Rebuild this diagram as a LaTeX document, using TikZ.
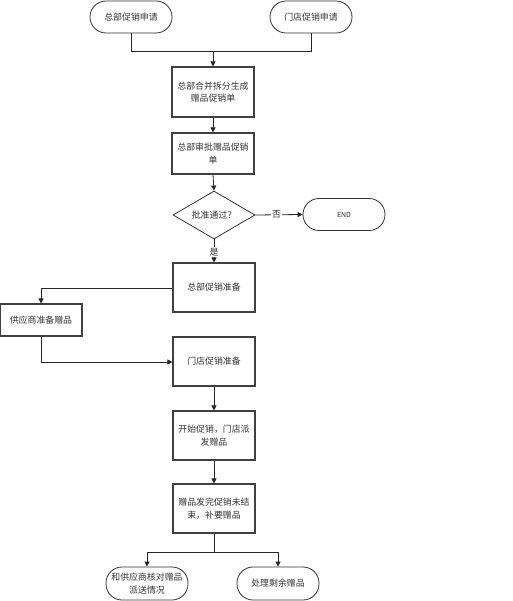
\documentclass[tikz,border=0pt]{standalone}
\usepackage{fontspec}
\setmainfont{Noto Sans CJK SC}
\usetikzlibrary{shapes.geometric,arrows.meta}
\begin{document}
\begin{tikzpicture}[x=1pt,y=-1pt,
  every node/.style={font=\fontsize{8.9}{12.5}\selectfont, text=black!80},
  proc/.style={draw=black!75, line width=1.1pt, minimum width=82pt, align=center, inner sep=1pt, text width=80pt},
  term/.style={draw=black!80, line width=0.8pt, minimum width=82pt, minimum height=32pt, rounded corners=16pt, align=center, inner sep=1pt},
  dec/.style={draw=black!80, line width=0.8pt, diamond, aspect=1.68, minimum width=82pt, minimum height=48pt, inner sep=0pt},
  conn/.style={draw=black!85, line width=0.8pt},
  arr/.style={conn, -{Triangle[length=5pt,width=5pt]}}]
\useasboundingbox (0,0) rectangle (512,601);
\node[term] (t1) at (131,17) {总部促销申请};
\node[term] (t2) at (311,17) {门店促销申请};
\node[proc, minimum height=50pt] (b1) at (213,92) {总部合并拆分生成\\赠品促销单};
\node[proc, minimum height=41pt] (b2) at (213,153.5) {总部审批赠品促销\\单};
\node[dec] (d) at (214,215) {批准通过？};
\node[term] (end) at (344,214.5) {\fontsize{7}{8}\selectfont END};
\node[proc, minimum height=49pt] (b3) at (214,287.5) {总部促销准备};
\node[proc, minimum height=32pt] (sup) at (41,320) {供应商准备赠品};
\node[proc, minimum height=49pt] (b4) at (214,361.5) {门店促销准备};
\node[proc, minimum height=49pt] (b5) at (214,435.5) {开始促销，门店派\\发赠品};
\node[proc, minimum height=49pt] (b6) at (214,508.5) {赠品发完促销未结\\束，补要赠品};
\node[term, minimum height=33pt] (t3) at (147,583.5) {和供应商核对赠品\\派送情况};
\node[term, minimum height=33pt] (t4) at (278,583.5) {处理剩余赠品};
\coordinate (m) at (213,51);
\draw[conn] (t1.south) -- (t1.south |- m) -- (t2.south |- m) -- (t2.south);
\draw[arr] (m) -- (b1.north);
\draw[arr] (b1.south) -- (b2.north);
\draw[arr] (b2.south) -- (d.north);
\draw[arr] (d.east) -- node[fill=white, inner sep=1pt, pos=0.45] {否} (end.west);
\draw[arr] (d.south) -- node[fill=white, inner sep=1pt, pos=0.55] {是} (b3.north);
\draw[arr] (b3.west |- 0,288) -- (41,288) -- (sup.north);
\draw[arr] (sup.south) -- (41,362) -- (b4.west |- 0,362);
\draw[arr] (b4.south) -- (b5.north);
\draw[arr] (b5.south) -- (b6.north);
\coordinate (s) at (214,552);
\draw[conn] (b6.south) -- (s);
\draw[arr] (s) -- (t3.north |- s) -- (t3.north);
\draw[arr] (s) -- (t4.north |- s) -- (t4.north);
\end{tikzpicture}
\end{document}
